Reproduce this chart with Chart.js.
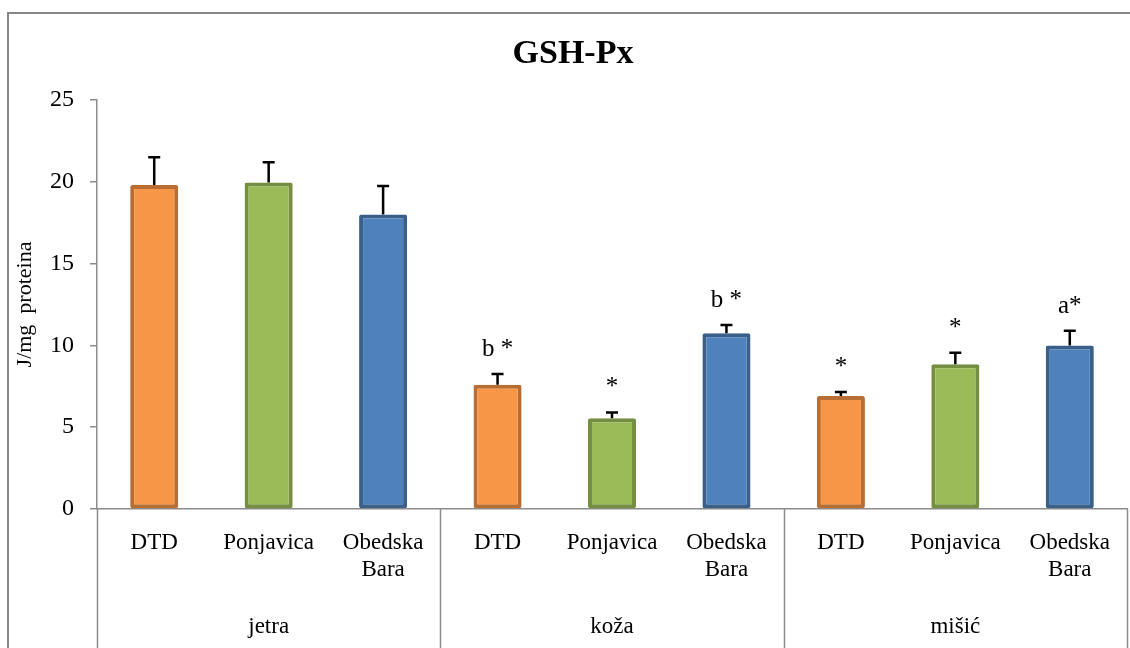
<!DOCTYPE html>
<html>
<head>
<meta charset="utf-8">
<script src="https://cdn.jsdelivr.net/npm/chart.js@4.4.1/dist/chart.umd.min.js"></script>
<style>
  html, body { margin: 0; padding: 0; background: #ffffff; }
  #wrap { width: 1130px; height: 648px; }
</style>
</head>
<body>
<div id="wrap"><canvas id="chart" width="1130" height="648"></canvas></div>
<script>
const chartTitle = "GSH-Px";
const yAxisTitle = "J/mg  proteina";
const groups = ["jetra", "koža", "mišić"];
const siteLabels = ["DTD", "Ponjavica", ["Obedska", "Bara"]];
const yTicks = [0, 5, 10, 15, 20, 25];

// mean values per tissue (jetra, koža, mišić)
const dtdValues = [19.8, 7.6, 6.9];
const ponjavicaValues = [19.95, 5.55, 8.85];
const obedskaValues = [18.0, 10.75, 10.0];

// upper error (SE) per tissue
const dtdErrors = [1.7, 0.65, 0.25];
const ponjavicaErrors = [1.25, 0.35, 0.7];
const obedskaErrors = [1.75, 0.5, 0.9];

// significance marks
const dtdMarks = ["", "b *", "*"];
const ponjavicaMarks = ["", "*", "*"];
const obedskaMarks = ["", "b *", "a*"];

const serif = '"Liberation Serif", "Times New Roman", serif';
const axisGray = "#8c8c8c";

const siteFill = ["#F79646", "#9BBB59", "#4F81BD"];
const siteBorder = ["#B86D32", "#748F42", "#3A5F8B"];

const seriesValues = [dtdValues, ponjavicaValues, obedskaValues];
const seriesErrors = [dtdErrors, ponjavicaErrors, obedskaErrors];
const seriesMarks = [dtdMarks, ponjavicaMarks, obedskaMarks];

const labels = [];
const values = [];
const errors = [];
const marks = [];
const fills = [];
const borders = [];
groups.forEach((group, g) => {
  siteLabels.forEach((site, s) => {
    labels.push(site);
    values.push(seriesValues[s][g]);
    errors.push(seriesErrors[s][g]);
    marks.push(seriesMarks[s][g]);
    fills.push(siteFill[s]);
    borders.push(siteBorder[s]);
  });
});

const decorPlugin = {
  id: "decor",
  beforeDraw(chart) {
    const ctx = chart.ctx;
    ctx.save();
    ctx.fillStyle = "#ffffff";
    ctx.fillRect(0, 0, chart.width, chart.height);
    // outer frame
    ctx.strokeStyle = "#878787";
    ctx.lineWidth = 2;
    ctx.beginPath();
    ctx.moveTo(8, chart.height);
    ctx.lineTo(8, 13);
    ctx.lineTo(chart.width, 13);
    ctx.stroke();
    ctx.restore();
  },
  afterDraw(chart) {
    const ctx = chart.ctx;
    const x = chart.scales.x;
    const y = chart.scales.y;
    const area = chart.chartArea;
    ctx.save();

    // error bars (upper only)
    ctx.strokeStyle = "#000000";
    ctx.lineWidth = 2.5;
    values.forEach((v, i) => {
      const px = x.getPixelForValue(i);
      const top = y.getPixelForValue(v);
      const end = y.getPixelForValue(v + errors[i]);
      ctx.beginPath();
      ctx.moveTo(px, top);
      ctx.lineTo(px, end);
      ctx.moveTo(px - 6, end);
      ctx.lineTo(px + 6, end);
      ctx.stroke();
    });

    // significance marks
    ctx.fillStyle = "#000000";
    ctx.font = "25px " + serif;
    ctx.textAlign = "center";
    ctx.textBaseline = "alphabetic";
    marks.forEach((m, i) => {
      if (!m) return;
      const px = x.getPixelForValue(i);
      const end = y.getPixelForValue(values[i] + errors[i]);
      ctx.fillText(m, px, end - 18);
    });

    // group dividers below the axis
    ctx.strokeStyle = axisGray;
    ctx.lineWidth = 1.5;
    const step = x.getPixelForValue(1) - x.getPixelForValue(0);
    for (let g = 0; g <= groups.length; g++) {
      const px = Math.round(x.getPixelForValue(g * siteLabels.length) - step / 2) + 0.5;
      ctx.beginPath();
      ctx.moveTo(px, area.bottom);
      ctx.lineTo(px, chart.height);
      ctx.stroke();
    }

    // group labels
    ctx.font = "23px " + serif;
    groups.forEach((group, g) => {
      const first = x.getPixelForValue(g * siteLabels.length);
      const last = x.getPixelForValue(g * siteLabels.length + siteLabels.length - 1);
      ctx.fillText(group, (first + last) / 2, 633);
    });

    // title
    ctx.font = "bold 34px " + serif;
    ctx.fillText(chartTitle, 573, 63);

    // y axis title
    ctx.font = "22px " + serif;
    ctx.translate(25, (area.top + area.bottom) / 2);
    ctx.rotate(-Math.PI / 2);
    ctx.textBaseline = "middle";
    ctx.fillText(yAxisTitle, 0, 0);

    ctx.restore();
  },
};

new Chart(document.querySelector("#chart"), {
  type: "bar",
  data: {
    labels,
    datasets: [
      {
        data: values,
        backgroundColor: fills,
        borderColor: borders,
        borderWidth: 4,
        borderRadius: 2,
        borderSkipped: false,
        categoryPercentage: 1,
        barPercentage: 0.42,
      },
    ],
  },
  options: {
    responsive: false,
    animation: false,
    devicePixelRatio: 1,
    layout: { padding: { left: 0, right: 3, top: 100, bottom: 0 } },
    plugins: {
      legend: { display: false },
      title: { display: false },
      tooltip: { enabled: false },
    },
    scales: {
      x: {
        grid: { display: false },
        border: { display: true, color: axisGray, width: 1.5 },
        ticks: {
          color: "#000000",
          font: { family: serif, size: 23, lineHeight: 1.18 },
          padding: 12,
          maxRotation: 0,
          autoSkip: false,
        },
        afterFit(scale) {
          scale.height = 139;
        },
      },
      y: {
        min: 0,
        max: 25,
        afterBuildTicks(scale) {
          scale.ticks = yTicks.map((value) => ({ value }));
        },
        grid: { drawOnChartArea: false, drawTicks: true, tickLength: 7, color: axisGray, lineWidth: 1.5 },
        border: { display: true, color: axisGray, width: 1.5 },
        ticks: {
          color: "#000000",
          font: { family: serif, size: 24 },
          padding: 16,
        },
        afterFit(scale) {
          scale.width = 97;
        },
      },
    },
  },
  plugins: [decorPlugin],
});
</script>
</body>
</html>
